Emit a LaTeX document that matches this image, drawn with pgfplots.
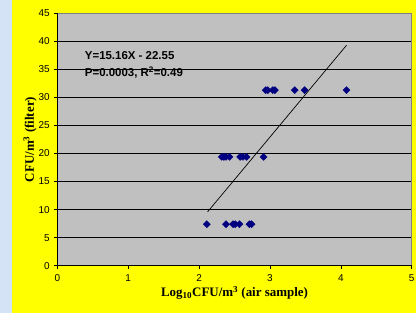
\documentclass[border=0pt]{standalone}
\usepackage{pgfplots}
\pgfplotsset{compat=1.18}
\usepackage{fontspec}
\setmainfont{Liberation Serif}
\newfontfamily\arial{Liberation Sans}
\definecolor{plotgray}{HTML}{C0C0C0}
\definecolor{bordergray}{HTML}{808080}
\definecolor{panelyellow}{HTML}{FFFF00}
\definecolor{stripblue}{HTML}{D4E3F5}
\definecolor{marknavy}{HTML}{000080}
\begin{document}
\begin{tikzpicture}
\fill[stripblue] (0,0) rectangle (12bp,313bp);
\fill[panelyellow] (12bp,0) rectangle (416bp,313bp);
\useasboundingbox (0,0) rectangle (416bp,313bp);
\begin{axis}[
  at={(57.3bp,47.3bp)}, anchor=south west,
  scale only axis, width=354.4bp, height=252.4bp,
  xmin=0, xmax=5, ymin=0, ymax=45,
  xtick={0,1,2,3,4,5}, ytick={0,5,...,45},
  axis background/.style={fill=plotgray},
  axis line style={draw=bordergray, line width=0.8bp},
  ymajorgrids, major grid style={black, line width=0.6bp},
  tick align=outside, major tick length=3bp,
  tick style={black, line width=0.6bp},
  xtick pos=bottom, ytick pos=left,
  /pgf/number format/assume math mode=true,
  tick label style={font=\arial\fontsize{10}{12}\selectfont},
  yticklabel style={xshift=-1bp},
  xticklabel style={yshift=-2bp},
  clip=false,
]
\addplot[only marks, mark=square*, mark size=2.5bp, mark options={rotate=45, fill=marknavy, draw=marknavy}] table {
x y
2.94 31.3
2.97 31.3
3.04 31.3
3.07 31.3
3.35 31.3
3.49 31.3
4.08 31.3
2.32 19.4
2.35 19.4
2.38 19.4
2.43 19.4
2.58 19.4
2.62 19.4
2.67 19.4
2.91 19.4
2.11 7.4
2.38 7.4
2.48 7.4
2.51 7.4
2.57 7.4
2.71 7.4
2.74 7.4
};
\addplot[black, line width=0.7bp] table {
x y
2.12 9.59
4.08 39.30
};
\draw[black, line width=0.8bp] (axis cs:0,0) -- (axis cs:0,45);
\draw[black, line width=0.8bp] (axis cs:0,0) -- (axis cs:5,0);
\node[anchor=west, align=left, font=\arial\bfseries\fontsize{11.5}{18}\selectfont] at (axis cs:0.34,35.8) {Y=15.16X - 22.55\\P=0.0003, R\textsuperscript{2}=0.49};
\node[font=\bfseries\fontsize{13}{15}\selectfont] at ([yshift=-27.3bp]rel axis cs:0.5,0) {Log\textsubscript{10}CFU/m\textsuperscript{3} (air sample)};
\node[rotate=90, font=\bfseries\fontsize{13}{15}\selectfont] at ([xshift=-27.3bp]rel axis cs:0,0.5) {CFU/m\textsuperscript{3} (filter)};
\end{axis}
\end{tikzpicture}
\end{document}
